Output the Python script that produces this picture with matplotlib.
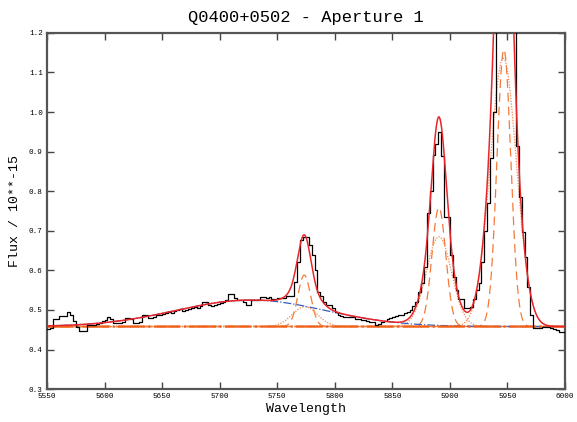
import numpy as np
import matplotlib
matplotlib.use("Agg")
from matplotlib import pyplot as plt

plt.rcParams['font.family'] = ['Liberation Mono', 'DejaVu Sans Mono']

# observed spectrum, 2.5 A bins starting at 5550 (value holds for [wl, wl+2.5))
wl_start, wl_step = 5550.0, 2.5
flux = [
    0.452, 0.455, 0.477, 0.477, 0.484, 0.484, 0.484, 0.494, 0.486, 0.472,
    0.458, 0.447, 0.447, 0.447, 0.463, 0.463, 0.462, 0.465, 0.468, 0.472,
    0.474, 0.483, 0.476, 0.468, 0.466, 0.468, 0.470, 0.479, 0.479, 0.478,
    0.468, 0.466, 0.470, 0.488, 0.486, 0.480, 0.479, 0.482, 0.486, 0.488,
    0.489, 0.492, 0.495, 0.493, 0.498, 0.500, 0.502, 0.497, 0.500, 0.503,
    0.504, 0.507, 0.505, 0.511, 0.521, 0.521, 0.512, 0.510, 0.512, 0.515,
    0.517, 0.520, 0.524, 0.540, 0.540, 0.530, 0.524, 0.524, 0.520, 0.512,
    0.512, 0.524, 0.524, 0.524, 0.532, 0.532, 0.530, 0.532, 0.527, 0.527,
    0.530, 0.530, 0.531, 0.534, 0.535, 0.535, 0.570, 0.620, 0.677, 0.685,
    0.685, 0.665, 0.640, 0.600, 0.546, 0.534, 0.520, 0.512, 0.512, 0.505,
    0.495, 0.487, 0.484, 0.481, 0.481, 0.481, 0.481, 0.478, 0.477, 0.475,
    0.475, 0.472, 0.470, 0.470, 0.463, 0.464, 0.470, 0.472, 0.476, 0.479,
    0.482, 0.485, 0.487, 0.487, 0.492, 0.495, 0.500, 0.510, 0.521, 0.546,
    0.567, 0.609, 0.744, 0.800, 0.892, 0.920, 0.949, 0.890, 0.736, 0.736,
    0.639, 0.584, 0.550, 0.527, 0.527, 0.504, 0.504, 0.507, 0.527, 0.550,
    0.569, 0.620, 0.700, 0.770, 0.884, 1.000, 1.250, 1.300, 1.350, 1.350,
    1.300, 1.280, 1.250, 0.913, 0.786, 0.698, 0.635, 0.559, 0.487, 0.454,
    0.454, 0.454, 0.457, 0.457, 0.457, 0.455, 0.452, 0.450, 0.445, 0.445,
    0.445,
]

# fitted model: flat continuum + broad underlying bump + narrow/broad pairs
continuum = 0.458
bump = (5727.0, 0.067, 65.0)               # centre, amplitude, sigma
narrow_centres = [5773.5, 5890.5, 5947.0]
narrow_amps = [0.130, 0.300, 0.700]
narrow_sigmas = [5.5, 6.0, 6.0]
broad_centres = [5774.0, 5890.5, 5946.5]
broad_amps = [0.050, 0.227, 0.678]
broad_sigmas = [11.0, 11.0, 11.5]


def gauss(x, c, a, s):
    return a * np.exp(-0.5 * ((x - c) / s) ** 2)


wl = wl_start + wl_step * np.arange(len(flux))
x = np.linspace(5550, 6000, 2000)
cont = np.full_like(x, continuum)
blue = cont + gauss(x, *bump)
total = blue.copy()
for c, a, s in zip(narrow_centres, narrow_amps, narrow_sigmas):
    total += gauss(x, c, a, s)
for c, a, s in zip(broad_centres, broad_amps, broad_sigmas):
    total += gauss(x, c, a, s)

fig = plt.figure(figsize=(5.77, 4.22), dpi=100)
ax = fig.add_axes([0.0815, 0.078, 0.8975, 0.844])

ax.plot(wl, flux, drawstyle='steps-post', color='black', lw=0.9, zorder=3)
for c, a, s in zip(narrow_centres, narrow_amps, narrow_sigmas):
    ax.plot(x, cont + gauss(x, c, a, s), color='#f47a38', lw=0.9,
            dashes=(7, 4), zorder=2)
for c, a, s in zip(broad_centres, broad_amps, broad_sigmas):
    ax.plot(x, cont + gauss(x, c, a, s), color='#f48a50', lw=0.9,
            linestyle=(0, (1, 1.2)), zorder=2)
ax.plot(x, blue, color='#3a5cc0', lw=0.9, linestyle='-.', zorder=2)
ax.plot(x, cont, color='#f06018', lw=1.6, linestyle=(0, (12, 1.5, 1, 1.5)), zorder=2)
ax.plot(x, total, color='#e8262a', lw=1.1, zorder=4)

ax.set_xlim(5550, 6000)
ax.set_ylim(0.3, 1.2)
ax.set_xticks(np.arange(5550, 6001, 50))
ax.set_yticks(np.arange(0.3, 1.201, 0.1))
ax.set_yticklabels([f"{v:.1f}" for v in np.arange(0.3, 1.201, 0.1)])
ax.tick_params(direction='in', top=True, right=True, length=5, width=1,
               labelsize=5.5, colors='#444444', labelcolor='black', pad=3)
for sp in ax.spines.values():
    sp.set_linewidth(1.6)
    sp.set_color('#555555')

ax.set_xlabel('Wavelength', fontsize=9.5, labelpad=2)
ax.set_ylabel('Flux / 10**-15', fontsize=9.5, labelpad=6)
ax.set_title('Q0400+0502 - Aperture 1', fontsize=12.3, pad=8)

plt.savefig('out.png', dpi=100)
